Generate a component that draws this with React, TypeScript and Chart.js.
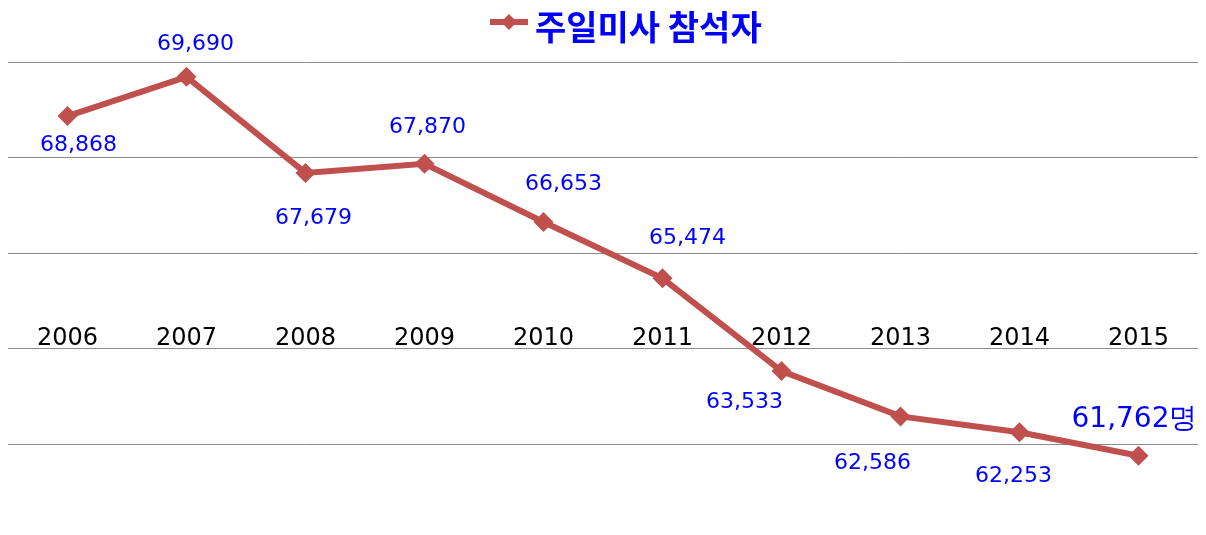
import React, { useEffect, useRef } from "react";
import { Chart, registerables } from "chart.js";

Chart.register(...registerables);

const years = ["2006", "2007", "2008", "2009", "2010", "2011", "2012", "2013", "2014", "2015"];
const attendance = [68868, 69690, 67679, 67870, 66653, 65474, 63533, 62586, 62253, 61762];
const gridValues = [62000, 64000, 66000, 68000, 70000];
const seriesName = "주일미사 참석자";
const lastSuffix = "명";

// label offsets (dx, dy) relative to each point
const labelOffsets: [number, number][] = [
  [11, 29], [9, -33], [8, 45], [3, -37], [20, -38],
  [25, -40], [-37, 31], [-28, 47], [-6, 44], [-4, -36],
];

const LINE_COLOR = "#C0504D";
const LABEL_COLOR = "#0000FF";

const drawDiamond = (ctx: CanvasRenderingContext2D, x: number, y: number, r: number) => {
  ctx.beginPath();
  ctx.moveTo(x, y - r);
  ctx.lineTo(x + r, y);
  ctx.lineTo(x, y + r);
  ctx.lineTo(x - r, y);
  ctx.closePath();
  ctx.fill();
};

const customPlugin = {
  id: "customDraw",
  afterDatasetsDraw(chart: any) {
    const ctx = chart.ctx as CanvasRenderingContext2D;
    const meta = chart.getDatasetMeta(0);
    ctx.save();
    ctx.fillStyle = LABEL_COLOR;
    ctx.textAlign = "center";
    ctx.textBaseline = "middle";
    meta.data.forEach((pt: any, i: number) => {
      const [dx, dy] = labelOffsets[i];
      const isLast = i === attendance.length - 1;
      ctx.font = isLast ? '28px "DejaVu Sans"' : '22px "DejaVu Sans"';
      const txt = attendance[i].toLocaleString("en-US") + (isLast ? lastSuffix : "");
      ctx.fillText(txt, pt.x + dx, pt.y + dy);
    });
    ctx.restore();
  },
  afterDraw(chart: any) {
    const ctx = chart.ctx as CanvasRenderingContext2D;
    const cx = chart.width / 2;
    const start = cx - 113;
    ctx.save();
    ctx.strokeStyle = LINE_COLOR;
    ctx.fillStyle = LINE_COLOR;
    ctx.lineWidth = 6;
    ctx.beginPath();
    ctx.moveTo(start, 14);
    ctx.lineTo(start + 38, 14);
    ctx.stroke();
    drawDiamond(ctx, start + 19, 14, 8);
    ctx.fillStyle = LABEL_COLOR;
    ctx.font = 'bold 34px "Noto Sans CJK KR"';
    ctx.textAlign = "left";
    ctx.textBaseline = "middle";
    ctx.fillText(seriesName, start + 45, 19);
    ctx.restore();
  },
};

export default function App() {
  const canvasRef = useRef<HTMLCanvasElement | null>(null);

  useEffect(() => {
    if (!canvasRef.current) return;
    const chart = new Chart(canvasRef.current, {
      type: "line",
      data: {
        labels: years,
        datasets: [
          {
            label: seriesName,
            data: attendance,
            borderColor: LINE_COLOR,
            backgroundColor: LINE_COLOR,
            borderWidth: 6,
            pointStyle: "rectRot",
            pointRadius: 10,
            pointBorderWidth: 0,
            pointBackgroundColor: LINE_COLOR,
            tension: 0,
            clip: false as any,
          },
        ],
      },
      options: {
        animation: false,
        responsive: true,
        maintainAspectRatio: false,
        layout: { autoPadding: false, padding: { top: 54, left: 0, right: 0, bottom: 0 } },
        plugins: {
          legend: { display: false },
          tooltip: { enabled: false },
        },
        scales: {
          x: {
            type: "category",
            offset: true,
            position: { y: 64510 } as any,
            afterFit: (scale: any) => {
              scale.height = 0;
            },
            grid: { display: false, drawTicks: false },
            border: { display: false },
            ticks: {
              color: "#000000",
              font: { family: "DejaVu Sans", size: 24 },
              padding: 0,
              maxRotation: 0,
              autoSkip: false,
            },
          },
          y: {
            min: 60272,
            max: 70000,
            afterFit: (scale: any) => {
              scale.width = 0;
            },
            afterBuildTicks: (scale: any) => {
              scale.ticks = gridValues.map((v) => ({ value: v }));
            },
            grid: { color: "#8C8C8C", lineWidth: 1, drawTicks: false },
            border: { display: false },
            ticks: { display: false },
          },
        },
      },
      plugins: [customPlugin],
    });
    return () => chart.destroy();
  }, []);

  return (
    <div style={{ position: "relative", width: "1190px", height: "519px" }}>
      <canvas ref={canvasRef} />
    </div>
  );
}
